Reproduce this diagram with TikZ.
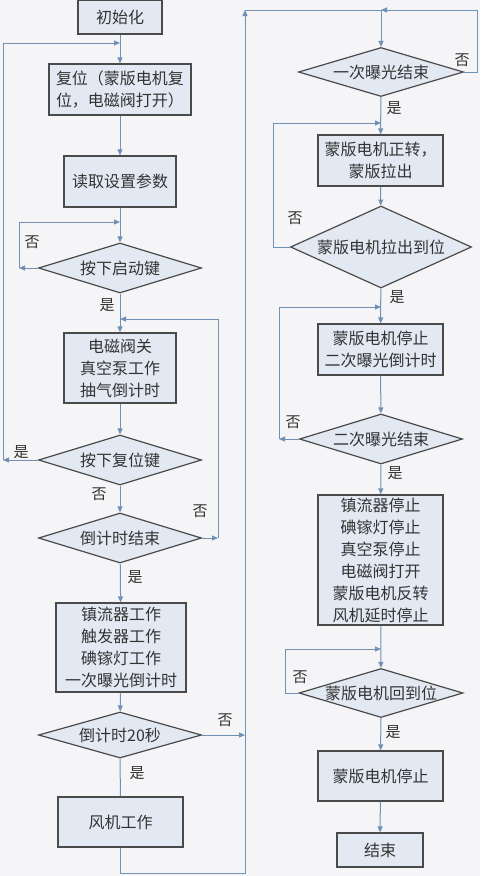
\documentclass[tikz,border=0pt]{standalone}
\usepackage{fontspec}
\setmainfont{Noto Sans CJK SC}
\usetikzlibrary{arrows.meta,shapes.geometric}
\definecolor{bg}{HTML}{F5F5F7}
\definecolor{boxfill}{HTML}{E3E9F3}
\definecolor{boxline}{HTML}{4A4A4A}
\definecolor{conn}{HTML}{7090B5}
\definecolor{txt}{HTML}{333333}
\begin{document}
\begin{tikzpicture}[x=1pt,y=-1pt,
  every node/.style={text=txt,font=\fontsize{16}{22}\selectfont},
  pbox/.style={draw=boxline,line width=1.2pt,fill=boxfill,inner sep=2pt,align=center},
  dec/.style={diamond,draw=boxline,line width=1.2pt,fill=boxfill,inner sep=0pt},
  lbl/.style={font=\fontsize{15}{18}\selectfont,inner sep=0pt},
  conn/.style={draw=conn,line width=1pt},
  arr/.style={conn,-{Triangle[length=6pt,width=5pt]}}]
\fill[bg] (0,0) rectangle (480,876);
\useasboundingbox (0,0) rectangle (480,876);
% left column
\node[pbox,minimum width=84pt,minimum height=34pt] (init) at (120,17) {初始化};
\node[pbox,minimum width=142pt,minimum height=51pt,align=left] (reset) at (120,89.5) {复位（蒙版电机复\\位，电磁阀打开）};
\node[pbox,minimum width=112pt,minimum height=51pt] (read) at (120,181.5) {读取设置参数};
\node[dec,minimum width=163pt,minimum height=50pt] (d1) at (120,268) {\makebox[0pt]{按下启动键}};
\node[pbox,minimum width=112pt,minimum height=70pt] (vac) at (120,368) {电磁阀关\\真空泵工作\\抽气倒计时};
\node[dec,minimum width=163pt,minimum height=50pt] (d2) at (120,460) {\makebox[0pt]{按下复位键}};
\node[dec,minimum width=163pt,minimum height=50pt] (d3) at (120,538) {\makebox[0pt]{倒计时结束}};
\node[pbox,minimum width=130pt,minimum height=89pt] (lamp) at (121,647.5) {镇流器工作\\触发器工作\\碘镓灯工作\\一次曝光倒计时};
\node[dec,minimum width=163pt,minimum height=46pt] (d4) at (120,735) {\makebox[0pt]{倒计时20秒}};
\node[pbox,minimum width=125pt,minimum height=50pt] (fan) at (120.5,822) {风机工作};
% right column
\node[dec,minimum width=165pt,minimum height=49pt] (d5) at (381,72) {\makebox[0pt]{一次曝光结束}};
\node[pbox,minimum width=125pt,minimum height=51pt] (fwd) at (380.5,160.5) {蒙版电机正转，\\蒙版拉出};
\node[dec,minimum width=181pt,minimum height=82pt] (d6) at (381,247) {\makebox[0pt]{蒙版电机拉出到位}};
\node[pbox,minimum width=125pt,minimum height=51pt] (stop2) at (380.5,349.5) {蒙版电机停止\\二次曝光倒计时};
\node[dec,minimum width=163pt,minimum height=50pt] (d7) at (381,439) {\makebox[0pt]{二次曝光结束}};
\node[pbox,minimum width=125pt,minimum height=130pt] (stopall) at (380.5,560) {镇流器停止\\碘镓灯停止\\真空泵停止\\电磁阀打开\\蒙版电机反转\\风机延时停止};
\node[dec,minimum width=164pt,minimum height=49pt] (d8) at (381,693) {\makebox[0pt]{蒙版电机回到位}};
\node[pbox,minimum width=125pt,minimum height=50pt] (stop3) at (380.5,776) {蒙版电机停止};
\node[pbox,minimum width=86pt,minimum height=34pt] (end) at (380,850) {结束};
% junction coordinates
\coordinate (j0) at (120,43);
\coordinate (j1) at (120,222);
\coordinate (j2) at (120,319);
\coordinate (c1) at (19,268);
\coordinate (cL) at (3,460);
\coordinate (c3) at (218,538);
\coordinate (c4) at (245,735);
\coordinate (cB) at (245,873);
\coordinate (cT) at (245,10);
\coordinate (t5) at (381,10);
\coordinate (c5) at (477,72);
\coordinate (c6) at (273,247);
\coordinate (j3) at (381,123);
\coordinate (c7) at (279,439);
\coordinate (j4) at (381,307);
\coordinate (c8) at (285,693);
\coordinate (j5) at (381,649);
% connectors left
\draw[arr] (init) -- (reset);
\draw[arr] (reset) -- (read);
\draw[arr] (read) -- (d1);
\draw[arr] (d1.west) -- (c1);
\draw[arr] (c1) |- (j1);
\draw[arr] (d1) -- (vac);
\draw[arr] (vac) -- (d2);
\draw[arr] (d2.west) -- (cL);
\draw[arr] (cL) |- (j0);
\draw[arr] (d2) -- (d3);
\draw[arr] (d3.east) -- (c3);
\draw[arr] (c3) |- (j2);
\draw[arr] (d3) -- (lamp);
\draw[arr] (lamp) -- (d4);
\draw[arr] (d4.east) -- (c4);
\draw[conn] (d4) -- (fan);
\draw[arr] (fan.south) |- (cB) -- (cT);
\draw[conn] (cT) -- (t5);
\draw[arr] (t5) -- (d5.north);
\draw[arr] (d5.east) -- (c5) |- (t5);
% connectors right
\draw[arr] (d5) -- (fwd);
\draw[arr] (fwd) -- (d6);
\draw[arr] (d6.west) -- (c6) |- (j3);
\draw[arr] (d6) -- (stop2);
\draw[arr] (stop2) -- (d7);
\draw[arr] (d7.west) -- (c7);
\draw[arr] (c7) |- (j4);
\draw[arr] (d7) -- (stopall);
\draw[arr] (stopall) -- (d8);
\draw[arr] (d8.west) -- (c8) |- (j5);
\draw[arr] (d8) -- (stop3);
\draw[arr] (stop3) -- (end);
% labels
\node[lbl] (l1) at (32,242) {否};
\node[lbl] (l2) at (107,305) {是};
\node[lbl] (l3) at (21,452) {是};
\node[lbl] (l4) at (99,494) {否};
\node[lbl] (l5) at (200,511) {否};
\node[lbl] (l6) at (135,577) {是};
\node[lbl] (l7) at (225,720) {否};
\node[lbl] (l8) at (137,773) {是};
\node[lbl] (l9) at (462,60) {否};
\node[lbl] (l10) at (394,108) {是};
\node[lbl] (l11) at (295,218) {否};
\node[lbl] (l12) at (397,297) {是};
\node[lbl] (l13) at (293,422) {否};
\node[lbl] (l14) at (395,473) {是};
\node[lbl] (l15) at (300,677) {否};
\node[lbl] (l16) at (393,732) {是};
\end{tikzpicture}
\end{document}
